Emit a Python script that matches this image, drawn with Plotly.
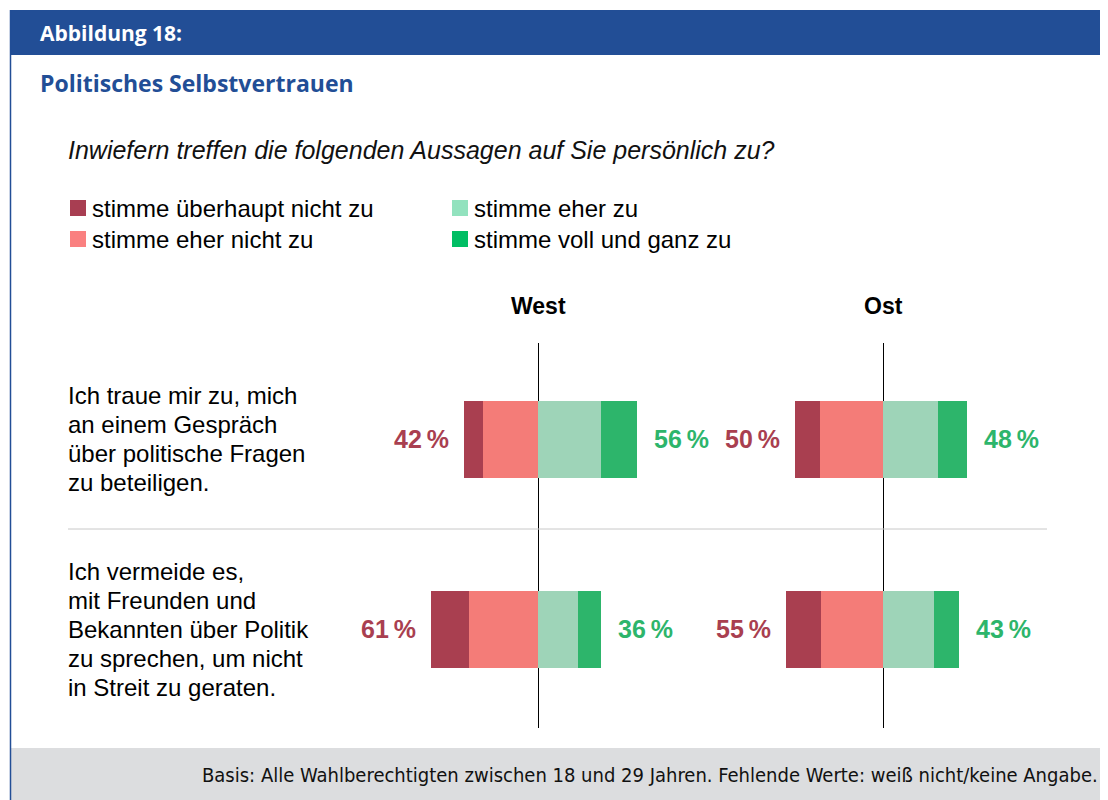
import plotly.graph_objects as go

# ---------------- data ----------------
regions = ["West", "Ost"]
categories = ["stimme überhaupt nicht zu", "stimme eher nicht zu",
              "stimme eher zu", "stimme voll und ganz zu"]
statements = [
    ["Ich traue mir zu, mich", "an einem Gespräch", "über politische Fragen", "zu beteiligen."],
    ["Ich vermeide es,", "mit Freunden und", "Bekannten über Politik", "zu sprechen, um nicht", "in Streit zu geraten."],
]
rows = [0, 1]

west_ueberhaupt_nicht = [11, 22]
west_eher_nicht = [31, 39]
west_eher = [36, 23]
west_voll = [20, 13]
west_disagree_total = [42, 61]
west_agree_total = [56, 36]

ost_ueberhaupt_nicht = [14, 20]
ost_eher_nicht = [36, 35]
ost_eher = [31, 29]
ost_voll = [17, 14]
ost_disagree_total = [50, 55]
ost_agree_total = [48, 43]

panels = {
    "West": dict(vals=[west_ueberhaupt_nicht, west_eher_nicht, west_eher, west_voll],
                 neg=west_disagree_total, pos=west_agree_total),
    "Ost": dict(vals=[ost_ueberhaupt_nicht, ost_eher_nicht, ost_eher, ost_voll],
                neg=ost_disagree_total, pos=ost_agree_total),
}

title_label = "Abbildung 18:"
title_text = "Politisches Selbstvertrauen"
question = "Inwiefern treffen die folgenden Aussagen auf Sie persönlich zu?"
footer = "Basis: Alle Wahlberechtigten zwischen 18 und 29 Jahren. Fehlende Werte: weiß nicht/keine Angabe."

# ---------------- styles ----------------
OFF = 8                     # page body margin
W, H = 1108 - OFF, 800 - OFF
BLUE = "#224E96"
bar_colors = ["#A93F50", "#F47C78", "#9ED4B8", "#2DB56B"]
legend_colors = ["#A83E52", "#FA8080", "#92E2BE", "#00BE64"]
RED_TXT = "#A93F50"
GREEN_TXT = "#2DB56B"
SANS = "Liberation Sans, Arial, sans-serif"
HUM = "Open Sans, Noto Sans, sans-serif"


def X(px):
    return (px - OFF) / W


def Y(py):
    return 1 - (py - OFF) / H


PX_PER_PCT = 1.76
HALF = 170
centers = {"West": 538, "Ost": 883}
RANGE = HALF / PX_PER_PCT

# y axis: rows 0 and 1 centered at 439 / 629 px; domain spans 343..728 px
row_px = [439, 629]
ytop, ybot = 343, 728
spacing = row_px[1] - row_px[0]
y_top_val = 0 - (row_px[0] - ytop) / spacing
y_bot_val = 1 + (ybot - row_px[1]) / spacing
BAR_W = 77 / spacing

fig = go.Figure()

for i, reg in enumerate(regions):
    p = panels[reg]
    xa = "x" if i == 0 else "x2"
    ya = "y" if i == 0 else "y2"
    # stacking order: nearest to zero first
    order = [(1, -1), (0, -1), (2, 1), (3, 1)]
    for ci, sign in order:
        fig.add_trace(go.Bar(
            y=rows, x=[sign * v for v in p["vals"][ci]], orientation="h",
            marker=dict(color=bar_colors[ci], line=dict(width=0)),
            width=BAR_W, name=categories[ci], showlegend=False,
            xaxis=xa, yaxis=ya, hoverinfo="skip",
        ))
    for r in rows:
        fig.add_annotation(x=-p["neg"][r], y=r, xref=xa, yref=ya, xanchor="right",
                           yanchor="middle", xshift=-13, showarrow=False,
                           text=f"{p['neg'][r]}\u2009%",
                           font=dict(family=SANS, size=25, color=RED_TXT, weight="bold"))
        fig.add_annotation(x=p["pos"][r], y=r, xref=xa, yref=ya, xanchor="left",
                           yanchor="middle", xshift=15, showarrow=False,
                           text=f"{p['pos'][r]}\u2009%",
                           font=dict(family=SANS, size=25, color=GREEN_TXT, weight="bold"))
    # panel title
    fig.add_annotation(x=X(centers[reg]), y=Y(306), xref="paper", yref="paper",
                       xanchor="center", yanchor="middle", showarrow=False,
                       text=f"<b>{reg}</b>", font=dict(family=SANS, size=23, color="#000"))

axis_common = dict(showgrid=False, showticklabels=False, ticks="", zeroline=True,
                   zerolinecolor="#000000", zerolinewidth=1, layer="above traces",
                   range=[-RANGE, RANGE], fixedrange=True)
yaxis_common = dict(showgrid=False, showticklabels=False, ticks="", zeroline=False,
                    range=[y_bot_val, y_top_val], domain=[Y(ybot), Y(ytop)], fixedrange=True)

fig.update_layout(
    width=W, height=H,
    margin=dict(l=0, r=0, t=0, b=0),
    paper_bgcolor="white", plot_bgcolor="rgba(0,0,0,0)",
    barmode="relative", bargap=0,
    xaxis=dict(domain=[X(centers["West"] - HALF), X(centers["West"] + HALF)], **axis_common),
    xaxis2=dict(domain=[X(centers["Ost"] - HALF), X(centers["Ost"] + HALF)], anchor="y2", **axis_common),
    yaxis=dict(anchor="x", **yaxis_common),
    yaxis2=dict(anchor="x2", **yaxis_common),
    showlegend=False,
)

shapes = []
# header band
shapes.append(dict(type="rect", xref="paper", yref="paper", x0=X(10), x1=1, y0=Y(55), y1=Y(10),
                   fillcolor=BLUE, line=dict(width=0), layer="below"))
# footer band
shapes.append(dict(type="rect", xref="paper", yref="paper", x0=X(10), x1=1, y0=0, y1=Y(748),
                   fillcolor="#DCDDDF", line=dict(width=0), layer="below"))
# left border
shapes.append(dict(type="line", xref="paper", yref="paper", x0=X(10.5), x1=X(10.5), y0=0, y1=Y(10),
                   line=dict(color=BLUE, width=1.5)))
# row separator
shapes.append(dict(type="line", xref="paper", yref="paper", x0=X(68), x1=X(1047), y0=Y(529), y1=Y(529),
                   line=dict(color="#C8C8C8", width=1)))

# legend (2 x 2)
leg_pos = [(70, 208), (70, 239), (452, 208), (452, 239)]
for (lx, ly), col, lab in zip(leg_pos, legend_colors, categories):
    shapes.append(dict(type="rect", xref="paper", yref="paper", x0=X(lx), x1=X(lx + 16),
                       y0=Y(ly + 8), y1=Y(ly - 8), fillcolor=col, line=dict(width=0)))
    fig.add_annotation(x=X(lx + 20), y=Y(ly), xref="paper", yref="paper", xanchor="left",
                       yanchor="middle", showarrow=False, text=lab,
                       font=dict(family=SANS, size=24, color="#000"))
fig.update_layout(shapes=shapes)

# header texts
fig.add_annotation(x=X(38), y=Y(33), xref="paper", yref="paper", xanchor="left", yanchor="middle",
                   showarrow=False, text=f"<b>{title_label}</b>",
                   font=dict(family=HUM, size=21, color="white"))
fig.add_annotation(x=X(38), y=Y(83), xref="paper", yref="paper", xanchor="left", yanchor="middle",
                   showarrow=False, text=f"<b>{title_text}</b>",
                   font=dict(family=HUM, size=23, color=BLUE))
fig.add_annotation(x=X(66), y=Y(150), xref="paper", yref="paper", xanchor="left", yanchor="middle",
                   showarrow=False, text=f"<i>{question}</i>",
                   font=dict(family=SANS, size=25, color="#111"))

# statement labels
LINE = 29
for r, lines in zip(rows, statements):
    n = len(lines)
    for k, ln in enumerate(lines):
        cy = row_px[r] + (k - (n - 1) / 2) * LINE
        fig.add_annotation(x=X(66), y=Y(cy), xref="paper", yref="paper", xanchor="left",
                           yanchor="middle", showarrow=False, text=ln,
                           font=dict(family=SANS, size=24, color="#000"))

# footer
fig.add_annotation(x=X(1100), y=Y(775), xref="paper", yref="paper", xanchor="right", yanchor="middle",
                   showarrow=False, text=footer,
                   font=dict(family="DejaVu Sans Condensed, Open Sans, sans-serif",
                             size=20, color="#111"))

fig.write_html("out.html")
